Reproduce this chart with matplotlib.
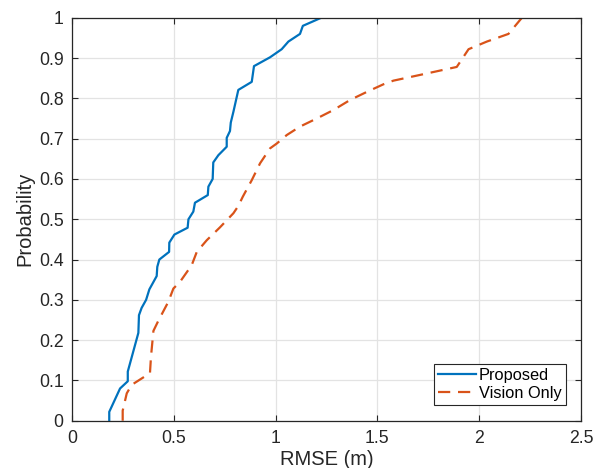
import matplotlib
matplotlib.use("Agg")
import matplotlib.pyplot as plt

plt.rcParams['font.family'] = ['Liberation Sans', 'DejaVu Sans']

proposed_x = [0.183, 0.183, 0.236, 0.274, 0.274, 0.326, 0.329, 0.342, 0.364, 0.380,
              0.416, 0.419, 0.429, 0.477, 0.478, 0.503, 0.568, 0.572, 0.596, 0.604,
              0.667, 0.670, 0.691, 0.694, 0.719, 0.760, 0.760, 0.776, 0.780, 0.793,
              0.817, 0.883, 0.894, 0.973, 1.030, 1.063, 1.120, 1.134, 1.224]
proposed_y = [0.000, 0.022, 0.080, 0.098, 0.122, 0.218, 0.262, 0.280, 0.300, 0.326,
              0.359, 0.382, 0.400, 0.419, 0.442, 0.462, 0.479, 0.500, 0.519, 0.541,
              0.560, 0.581, 0.600, 0.641, 0.659, 0.680, 0.702, 0.719, 0.740, 0.767,
              0.821, 0.841, 0.880, 0.902, 0.922, 0.941, 0.960, 0.980, 1.000]

vision_x = [0.249, 0.249, 0.269, 0.293, 0.383, 0.388, 0.400, 0.424, 0.473, 0.498,
            0.531, 0.588, 0.613, 0.662, 0.727, 0.793, 0.817, 0.839, 0.883, 0.924,
            0.973, 1.006, 1.055, 1.120, 1.202, 1.284, 1.366, 1.448, 1.530, 1.579,
            1.726, 1.890, 1.948, 2.038, 2.144, 2.210]
vision_y = [0.000, 0.025, 0.068, 0.089, 0.118, 0.159, 0.223, 0.248, 0.295, 0.328,
            0.345, 0.386, 0.419, 0.448, 0.480, 0.515, 0.533, 0.556, 0.597, 0.639,
            0.676, 0.688, 0.709, 0.730, 0.750, 0.771, 0.796, 0.816, 0.835, 0.844,
            0.860, 0.878, 0.922, 0.941, 0.960, 1.000]

x_ticks = [0, 0.5, 1, 1.5, 2, 2.5]
x_tick_labels = ['0', '0.5', '1', '1.5', '2', '2.5']
y_ticks = [0, 0.1, 0.2, 0.3, 0.4, 0.5, 0.6, 0.7, 0.8, 0.9, 1.0]
y_tick_labels = ['0', '0.1', '0.2', '0.3', '0.4', '0.5', '0.6', '0.7', '0.8', '0.9', '1']

fig = plt.figure(figsize=(6.02, 4.68), dpi=100)
ax = fig.add_axes([0.1196, 0.101, 0.8454, 0.861])

ax.plot(proposed_x, proposed_y, color='#0072BD', lw=1.6, label='Proposed')
ax.plot(vision_x, vision_y, color='#D95319', lw=1.6, linestyle=(0, (5.5, 3.5)),
        label='Vision Only')

ax.set_xlim(0, 2.5)
ax.set_ylim(0, 1)
ax.set_xticks(x_ticks)
ax.set_xticklabels(x_tick_labels)
ax.set_yticks(y_ticks)
ax.set_yticklabels(y_tick_labels)
ax.grid(True, color='#e3e3e3', lw=0.9)
ax.set_axisbelow(True)
ax.tick_params(direction='in', top=True, right=True, length=4, width=0.8,
               colors='#262626', labelsize=12.7)
ax.tick_params(axis='x', pad=7)
ax.tick_params(axis='y', pad=6)
for s in ax.spines.values():
    s.set_color('#262626')
    s.set_linewidth(0.9)

ax.set_xlabel('RMSE (m)', fontsize=14.5, color='#262626', labelpad=2)
ax.set_ylabel('Probability', fontsize=14.5, color='#262626', labelpad=3)

leg = ax.legend(loc='lower right', bbox_to_anchor=(0.97, 0.04), fontsize=11.8,
                fancybox=False, framealpha=1, edgecolor='#262626',
                handlelength=2.3, handletextpad=0.2, borderpad=0.25,
                labelspacing=0.15, borderaxespad=0)
leg.get_frame().set_linewidth(0.8)

fig.savefig('out.png', dpi=100)
